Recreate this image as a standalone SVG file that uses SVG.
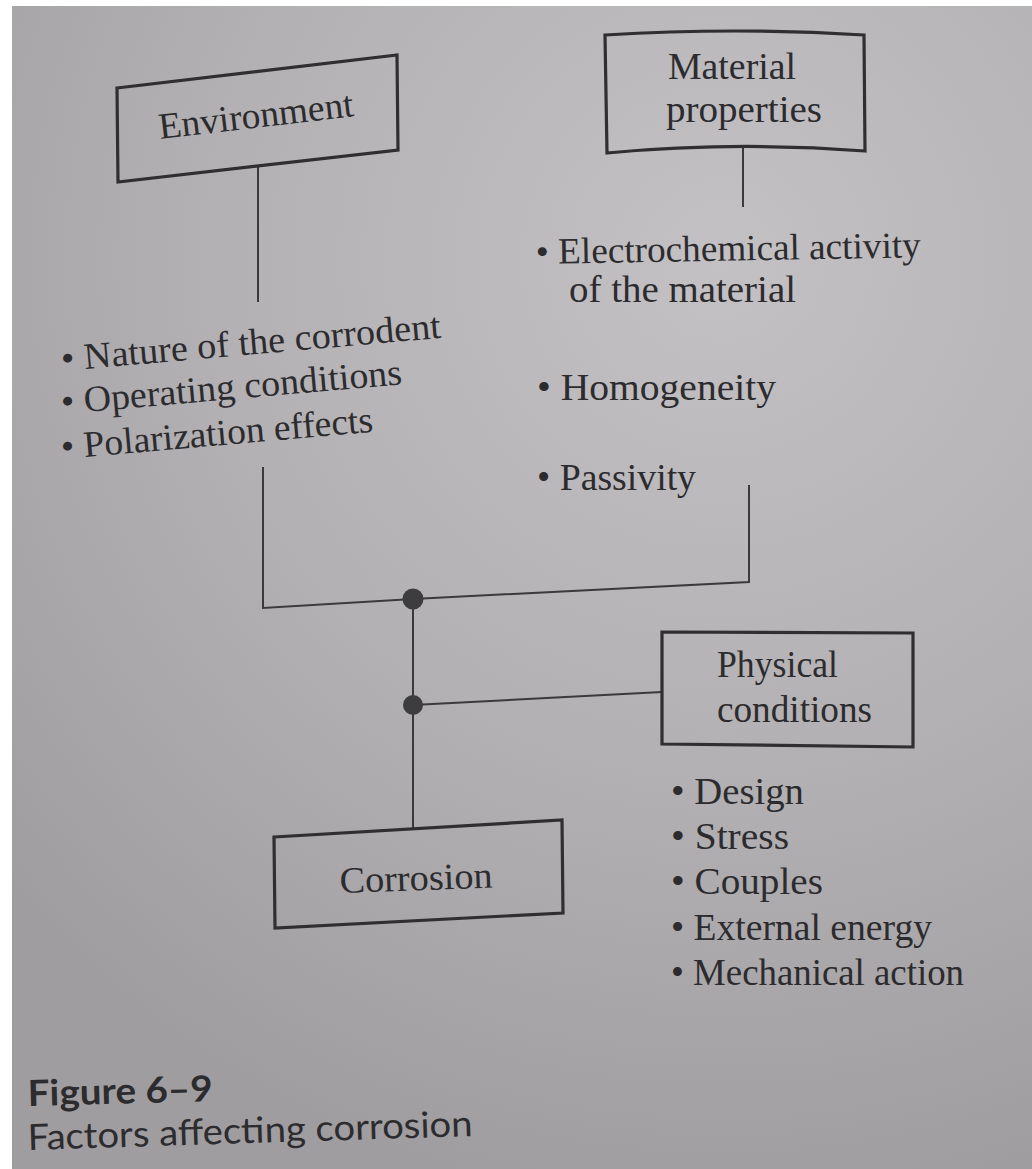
<svg xmlns="http://www.w3.org/2000/svg" width="1032" height="1169" viewBox="0 0 1032 1169">
<defs>
<radialGradient id="bg" gradientUnits="userSpaceOnUse" cx="720" cy="260" r="950">
<stop offset="0" stop-color="#c3c1c4"/>
<stop offset="0.55" stop-color="#b2b0b2"/>
<stop offset="1" stop-color="#9f9d9f"/>
</radialGradient>
<style>
.box{fill:none;stroke:#2f2e31;stroke-width:3.2;stroke-linejoin:miter}
.ln{fill:none;stroke:#3a393c;stroke-width:2}
.t{font-family:"Liberation Serif","Times New Roman",serif;font-size:37px;fill:#2c2b2e}
.cap{font-family:Lato,"Open Sans","Liberation Sans",sans-serif;font-size:36px;fill:#2c2b2e}
.dot{fill:#3d3c3f}
</style>
</defs>
<rect x="0" y="0" width="1032" height="1169" fill="#ffffff"/>
<rect x="12" y="6" width="1020" height="1163" fill="url(#bg)"/>

<g id="connectors">
<line class="ln" x1="258" y1="166" x2="258" y2="302"/>
<line class="ln" x1="743" y1="147" x2="743" y2="207"/>
<polyline class="ln" points="263,467 263,608 413,599 749,582 749,485"/>
<line class="ln" x1="413" y1="599" x2="413" y2="828"/>
<line class="ln" x1="413" y1="705" x2="662" y2="692"/>
<circle class="dot" cx="413" cy="599" r="10.5"/>
<circle class="dot" cx="413" cy="705" r="10"/>
</g>

<g id="environment">
<polygon class="box" points="117,88 397,55 398,150 118,182"/>
<text class="t" x="160" y="139" textLength="196" lengthAdjust="spacingAndGlyphs" transform="rotate(-6.7 160 139)">Environment</text>
</g>

<g id="material-properties">
<path class="box" d="M605,35 Q735,27 864,35 L865,151 Q735,141 607,153 Z"/>
<text class="t" x="668" y="79" textLength="128" lengthAdjust="spacingAndGlyphs">Material</text>
<text class="t" x="666" y="122" textLength="156" lengthAdjust="spacingAndGlyphs">properties</text>
</g>

<g id="environment-factors">
<text class="t" x="62" y="371" textLength="381" lengthAdjust="spacingAndGlyphs" transform="rotate(-5 62 371)">• Nature of the corrodent</text>
<text class="t" x="62" y="414" textLength="342" lengthAdjust="spacingAndGlyphs" transform="rotate(-5 62 414)">• Operating conditions</text>
<text class="t" x="62" y="459" textLength="313" lengthAdjust="spacingAndGlyphs" transform="rotate(-5 62 459)">• Polarization effects</text>
</g>

<g id="material-factors">
<text class="t" x="536" y="264" textLength="385" lengthAdjust="spacingAndGlyphs" transform="rotate(-1 536 264)">• Electrochemical activity</text>
<text class="t" x="569" y="302" textLength="227" lengthAdjust="spacingAndGlyphs">of the material</text>
<text class="t" x="537" y="400" textLength="239" lengthAdjust="spacingAndGlyphs">• Homogeneity</text>
<text class="t" x="537" y="490" textLength="159" lengthAdjust="spacingAndGlyphs">• Passivity</text>
</g>

<g id="physical-conditions">
<polygon class="box" points="662,632 913,633 913,747 662,744"/>
<text class="t" x="717" y="677" textLength="121" lengthAdjust="spacingAndGlyphs">Physical</text>
<text class="t" x="717" y="722" textLength="155" lengthAdjust="spacingAndGlyphs">conditions</text>
</g>

<g id="physical-factors">
<text class="t" x="671" y="804" textLength="133" lengthAdjust="spacingAndGlyphs">• Design</text>
<text class="t" x="671" y="849" textLength="118" lengthAdjust="spacingAndGlyphs">• Stress</text>
<text class="t" x="671" y="894" textLength="152" lengthAdjust="spacingAndGlyphs">• Couples</text>
<text class="t" x="671" y="940" textLength="261" lengthAdjust="spacingAndGlyphs">• External energy</text>
<text class="t" x="671" y="985" textLength="293" lengthAdjust="spacingAndGlyphs">• Mechanical action</text>
</g>

<g id="corrosion">
<polygon class="box" points="274,837 562,820 563,913 275,928"/>
<text class="t" x="340" y="893" textLength="153" lengthAdjust="spacingAndGlyphs" transform="rotate(-2 340 893)">Corrosion</text>
</g>

<g id="caption">
<text class="cap" x="28" y="1106" font-weight="bold" textLength="185" lengthAdjust="spacingAndGlyphs" transform="rotate(-1.5 28 1106)">Figure 6–9</text>
<text class="cap" x="28" y="1150" textLength="445" lengthAdjust="spacingAndGlyphs" transform="rotate(-1.8 28 1150)">Factors affecting corrosion</text>
</g>
</svg>
